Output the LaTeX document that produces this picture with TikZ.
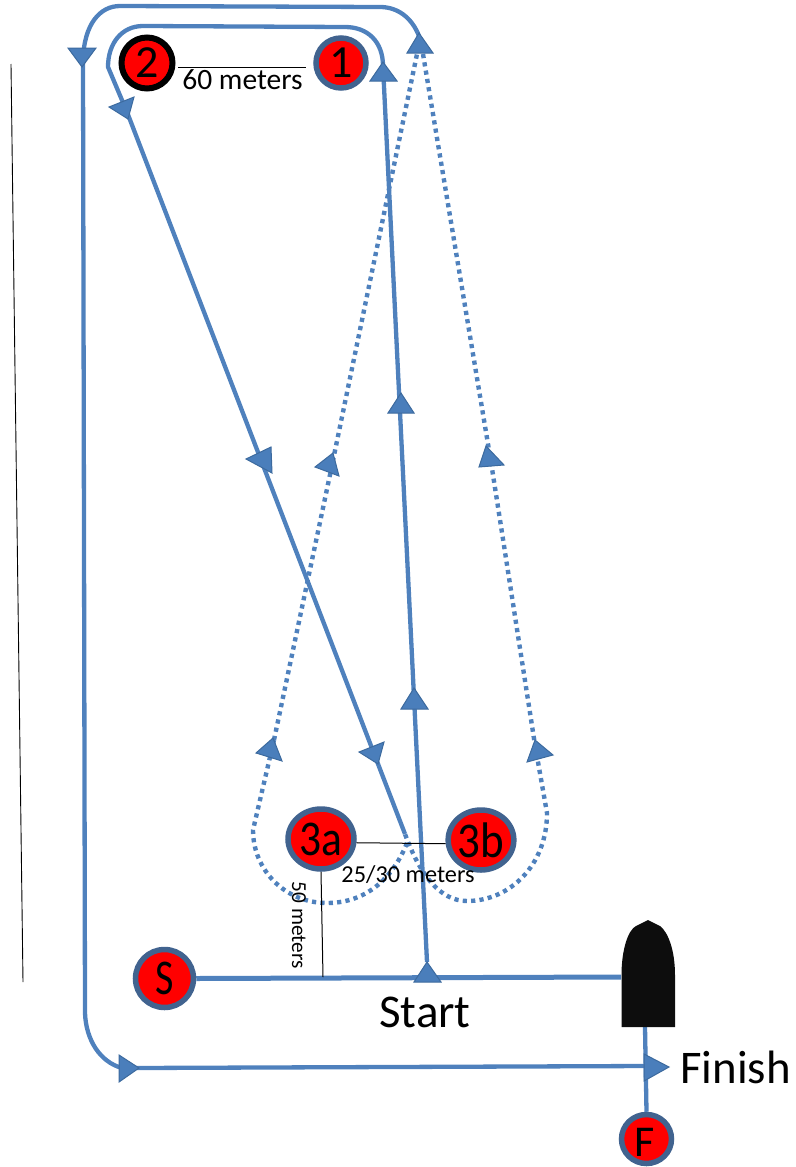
\documentclass[tikz,border=0pt]{standalone}
\usepackage{graphicx}
\usepackage{fontspec}
\usetikzlibrary{shapes.geometric}
\setmainfont{Carlito}
\definecolor{route}{HTML}{4F81BD}
\definecolor{rim}{HTML}{41638F}
\definecolor{headfill}{HTML}{4A7EBB}
\definecolor{headrim}{HTML}{3C6A9E}
\definecolor{hull}{HTML}{0D0D0D}
\tikzset{
  buoy/.style={circle,draw=rim,line width=5.5pt,fill=red,inner sep=0pt,text=black,font=\fontsize{46}{46}\selectfont},
  solidleg/.style={draw=route,line width=4.3pt,line join=round},
  dotleg/.style={draw=route,line width=4.4pt,dash pattern=on 4.2pt off 4.2pt},
  thin rule/.style={draw=black,line width=1pt},
  head/.style={fill=headfill,draw=headrim,line width=1pt,line join=miter},
  big label/.style={font=\fontsize{47}{47}\selectfont,inner sep=0pt},
}
\newcommand{\headtri}[3]{\path[head] (#1) -- (#2) -- (#3) -- cycle;}
\newcommand{\tallglyph}[4]{\raisebox{#1}{\fontsize{#2}{#2}\selectfont\scalebox{#3}[1]{#4}}}
\begin{document}
\begin{tikzpicture}[x=1pt,y=-1pt]
\useasboundingbox (0,0) rectangle (795,1167);
% way points
\coordinate (rStart) at (427,962);
\coordinate (rOne) at (383,66);
\coordinate (rTop) at (419,36);
\coordinate (rLeft) at (83,60);
\coordinate (rFin) at (135,1068);
\coordinate (rFinEnd) at (646,1066);
\coordinate (rTwo) at (127,112);
\coordinate (rCross) at (405,834);
\coordinate (dLa) at (407,843);
\coordinate (dLb) at (253,830);
\coordinate (dLc) at (274,740);
\coordinate (dLd) at (331,470);
\coordinate (dTopL) at (417,54);
\coordinate (dTopR) at (423,54);
\coordinate (dRd) at (491,462);
\coordinate (dRc) at (535,745);
\coordinate (dRb) at (547,813);
\coordinate (boatW) at (621,977);
\coordinate (boatS) at (645,1027);
\coordinate (ruleA) at (178,67);
\coordinate (ruleB) at (306,67);
\coordinate (ruleC) at (323,977);
\coordinate (edgeA) at (11,64);
\coordinate (edgeB) at (23,982);
% far-left thin line
\draw[line width=0.9pt] (edgeA) -- (edgeB);
% dotted legs
\path[dotleg] (dLa) .. controls (390,885) and (360,903) .. (327,903)
  .. controls (285,903) and (253,870) .. (dLb) -- (dLc);
\path[dotleg] (dLc) -- (dLd);
\path[dotleg] (dLd) -- (dTopL);
\path[dotleg] (dTopR) -- (dRd);
\path[dotleg] (dRd) -- (dRc);
\path[dotleg] (dRc) -- (dRb) .. controls (547,865) and (510,901) .. (467,901)
  .. controls (440,901) and (420,875) .. (rCross);
% solid legs
\path[solidleg] (rStart) -- (rOne) .. controls (383,42) and (368,27) .. (345,27)
  -- (143,26) .. controls (122,26) and (108,43) .. (108,67) -- (rTwo) -- (rCross);
\path[solidleg] (rTop) .. controls (412,18) and (398,7) .. (380,7)
  -- (120,6) .. controls (100,6) and (84,24) .. (rLeft) -- (85,1013)
  .. controls (86,1040) and (100,1062) .. (122,1068) -- (rFin) -- (rFinEnd);
% buoys
\node[buoy,minimum size=51pt,draw=black,line width=6pt] (m2) at (147,63) {\raisebox{-4pt}{2}};
\node[buoy,minimum size=50pt] (m1) at (341,63) {\raisebox{-4pt}{1}};
\node[buoy,ellipse,minimum width=66pt,minimum height=60pt] (m3a) at (321,839) {\tallglyph{-1pt}{50}{0.87}{3a}};
\node[buoy,ellipse,minimum width=65pt,minimum height=60pt] (m3b) at (481,840) {\tallglyph{-1pt}{50}{0.9}{3b}};
\node[buoy,minimum size=58pt] (mS) at (164.5,978.5) {\tallglyph{-1pt}{50}{0.8}{S}};
\node[buoy,ellipse,minimum width=50pt,minimum height=49pt] (mF) at (646.5,1139) {};
\node[font=\fontsize{44}{44}\selectfont,inner sep=0pt] (tF) at (645,1142) {F};
% start and finish lines
\path[solidleg,line width=5pt] (mS.east) -- (boatW);
\path[solidleg] (boatS) -- (mF.north);
% boat
\fill[hull] (621.5,1027) -- (621.5,975) .. controls (621.5,950) and (628,930) .. (636,926)
  -- (648,920) -- (660,926) .. controls (668,932) and (675,950) .. (675,975) -- (675,1027) -- cycle;
% rules
\draw[thin rule] (ruleA) -- (ruleB);
\draw[thin rule] (m3a.-6) -- (m3b.186);
\draw[thin rule] (m3a.south) -- (ruleC);
% arrow heads
\headtri{414,982}{441,982}{427,962}
\headtri{401,709}{428,709}{414,688}
\headtri{388,413}{414,413}{401,393}
\headtri{370,81}{397,81}{383,62}
\headtri{407,53}{433,53}{419,33}
\headtri{68,48}{96,48}{82,67}
\headtri{134,97}{128,119}{109,107}
\headtri{271,447}{272,473}{246,459}
\headtri{384,742}{378,764}{359,752}
\headtri{273,738}{256,753}{282,761}
\headtri{333,453}{315,467}{339,476}
\headtri{486,446}{479,467}{504,465}
\headtri{535,740}{553,755}{527,762}
\headtri{119,1055}{119,1082}{139,1068}
\headtri{644,1054}{644,1081}{669,1067}
% labels
\node[font=\fontsize{29.5}{29.5}\selectfont,inner sep=0pt] (t60) at (242.5,80) {60 meters};
\node[font=\fontsize{24.3}{25}\selectfont,inner sep=0pt] (t25) at (408,875) {25/30 meters};
\node[font=\fontsize{21.3}{22}\selectfont,inner sep=0pt,rotate=-90] (t50) at (299,925) {50 meters};
\node[big label] (tStart) at (425,1012) {Start};
\node[big label,font=\fontsize{46.8}{47}\selectfont] (tFinish) at (735.5,1067) {Finish};
\end{tikzpicture}
\end{document}
